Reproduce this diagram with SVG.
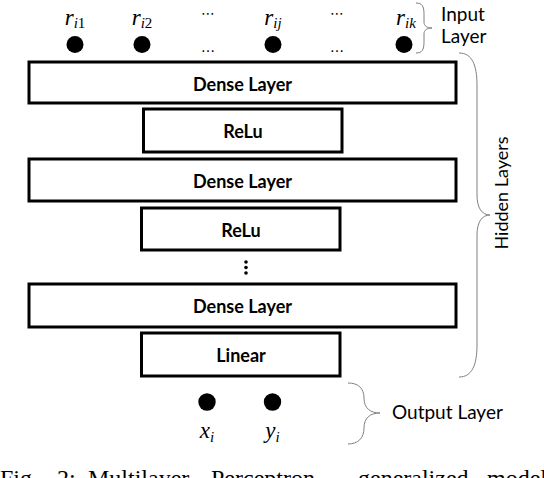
<svg xmlns="http://www.w3.org/2000/svg" width="544" height="478" viewBox="0 0 544 478">
<style>
.box{fill:#fff;stroke:#000;stroke-width:3}
.lbl{font-family:Lato,"Open Sans",sans-serif;font-weight:bold;font-size:18px;text-anchor:middle}
.side{font-family:Lato,"Open Sans",sans-serif;font-size:19px}
.math{font-family:"Liberation Serif",serif;font-style:italic;font-size:23px;text-anchor:middle}
.sub{font-size:15px}
.up{font-style:normal}
.ell{font-family:"DejaVu Sans",sans-serif;font-size:14px;text-anchor:middle}
.brace{fill:none;stroke:#808080;stroke-width:1}
.cap{font-family:"Liberation Serif",serif;font-size:24px}
</style>
<rect width="544" height="478" fill="#fff"/>
<g id="input-layer">
<text class="math" x="75" y="25">r<tspan class="sub" dy="3">i<tspan class="up">1</tspan></tspan></text>
<text class="math" x="142" y="25">r<tspan class="sub" dy="3">i<tspan class="up">2</tspan></tspan></text>
<text class="ell" x="208" y="18">⋯</text>
<text class="math" x="273" y="25">r<tspan class="sub" dy="3">ij</tspan></text>
<text class="ell" x="337" y="18">⋯</text>
<text class="math" x="406" y="25">r<tspan class="sub" dy="3">ik</tspan></text>
<circle cx="75" cy="44.5" r="8.5"/>
<circle cx="142" cy="44.5" r="8.5"/>
<text class="ell" x="208" y="52">…</text>
<circle cx="273" cy="44.5" r="8.5"/>
<text class="ell" x="337" y="52">…</text>
<circle cx="404" cy="44.5" r="8.5"/>
</g>
<g id="dense1"><rect class="box" x="29" y="62" width="427" height="41"/><text class="lbl" x="242.5" y="91">Dense Layer</text></g>
<g id="relu1"><rect class="box" x="143.5" y="109" width="198.5" height="43"/><text class="lbl" x="243" y="138">ReLu</text></g>
<g id="dense2"><rect class="box" x="29" y="159" width="427" height="42"/><text class="lbl" x="242.5" y="188">Dense Layer</text></g>
<g id="relu2"><rect class="box" x="141.5" y="208" width="198.5" height="42"/><text class="lbl" x="241" y="237">ReLu</text></g>
<g id="vdots">
<circle cx="246" cy="262" r="1.8"/><circle cx="246" cy="267.5" r="1.8"/><circle cx="246" cy="273" r="1.8"/>
</g>
<g id="dense3"><rect class="box" x="29" y="284" width="427" height="43"/><text class="lbl" x="242.5" y="313">Dense Layer</text></g>
<g id="linear"><rect class="box" x="141.5" y="333" width="198.5" height="43"/><text class="lbl" x="241" y="362">Linear</text></g>
<g id="output-layer">
<circle cx="207" cy="402" r="8.7"/>
<circle cx="272.5" cy="402" r="8.7"/>
<text class="math" x="207" y="438">x<tspan class="sub" dy="4">i</tspan></text>
<text class="math" x="272.5" y="438">y<tspan class="sub" dy="4">i</tspan></text>
</g>
<g id="connectors">
<path class="brace" d="M416,3 C422,3 424,6 424,14 L424,22 C424,26 427,28 432,28 C427,28 424,30 424,34 L424,42 C424,50 422,53 416,53"/>
<path class="brace" d="M459,53 C472,53 477,65 477,85 L477,195 C477,208 482,215 490,215 C482,215 477,222 477,235 L477,345 C477,365 472,377 459,377"/>
<path class="brace" d="M348,383 C358,383 364,388 364,398 C364,408 370,413 380,413 C370,413 364,418 364,428 C364,438 358,444 348,444"/>
</g>
<g id="labels">
<text class="side" x="441" y="21">Input</text>
<text class="side" x="441" y="43">Layer</text>
<text class="side" style="font-size:18px" transform="translate(508,193) rotate(-90)" text-anchor="middle">Hidden Layers</text>
<text class="side" x="392" y="419">Output Layer</text>
</g>
<text class="cap" y="486"><tspan x="0">Fig.</tspan><tspan x="57">2:</tspan><tspan x="88">Multilayer</tspan><tspan x="211">Perceptron</tspan><tspan x="358">generalized</tspan><tspan x="487">model</tspan></text>
</svg>
